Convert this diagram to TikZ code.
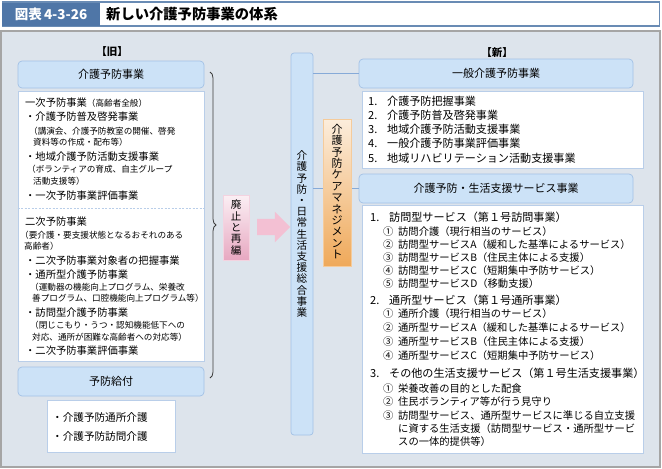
\documentclass[tikz,border=0pt]{standalone}
\usepackage{fontspec}
\setmainfont{Noto Sans CJK JP}
\usetikzlibrary{positioning,shapes.arrows,decorations.pathreplacing}
\definecolor{panelbg}{HTML}{DDE4EC}
\definecolor{panelline}{HTML}{A5A5A5}
\definecolor{hdrfill}{HTML}{CCE2F7}
\definecolor{hdrline}{HTML}{A3C1E6}
\definecolor{boxline}{HTML}{B9CEE9}
\definecolor{connline}{HTML}{86AAD8}
\definecolor{titleblue}{HTML}{4F76A7}
\definecolor{pinktop}{HTML}{FBEFF4}
\definecolor{pinkbot}{HTML}{E7A8C1}
\definecolor{pinkarrow}{HTML}{F3C0D3}
\definecolor{orgtop}{HTML}{FCEDDC}
\definecolor{orgbot}{HTML}{EFA95A}
\definecolor{bracecol}{HTML}{3C3C3C}
\newcommand{\numlab}[1]{\makebox[19pt][l]{#1}}
\newcommand{\circlab}[1]{\makebox[15pt][l]{#1}}

\begin{document}
\begin{tikzpicture}[x=1pt,y=-1pt,
    hdr/.style={draw=hdrline,fill=hdrfill,rounded corners=4pt,line width=0.7pt,inner sep=0,
                font=\fontsize{11}{13}\selectfont},
    wbox/.style={draw=boxline,fill=white,line width=0.6pt,inner sep=0},
    vtxt/.style={inner sep=0,align=center},
    big/.style={anchor=base west,inner sep=0,yshift=-3.9pt,font=\fontsize{10.3}{12}\selectfont},
    sm/.style={anchor=base west,inner sep=0,yshift=-3.3pt,font=\fontsize{8.6}{10}\selectfont},
    numitem/.style={anchor=base west,inner sep=0,yshift=-4.2pt,font=\fontsize{11.1}{13}\selectfont},
    circitem/.style={anchor=base west,inner sep=0,yshift=-3.9pt,font=\fontsize{10.3}{12}\selectfont},
    conn/.style={draw=connline,line width=0.8pt}]
  \useasboundingbox (0,0) rectangle (662,469);
  % title bar
  \node[draw=titleblue!85,line width=1.5pt,fill=white,minimum width=657pt,minimum height=24pt,inner sep=0] (ttl) at (331,14) {};
  \node[fill=titleblue,minimum width=98pt,minimum height=23pt,inner sep=0,text=white,
        font=\fontsize{13.5}{15}\selectfont\bfseries] (lab) at (51,14) {図表\,4-3-26};
  \node[anchor=west,inner sep=0,font=\fontsize{14.3}{16}\selectfont\bfseries] (ttltxt) at (106,14) {新しい介護予防事業の体系};
  % panel
  \node[draw=panelline,fill=panelbg,line width=1.2pt,minimum width=659pt,minimum height=436pt,inner sep=0] (panel) at (330.5,249) {};
  \node[font=\fontsize{10.5}{12}\selectfont\bfseries,inner sep=0] (old) at (112,52) {【旧】};
  \node[font=\fontsize{10.5}{12}\selectfont\bfseries,inner sep=0] (new) at (497,53) {【新】};

  % old system
  \node[hdr,minimum width=186pt,minimum height=27pt] (oldhdr) at (111,74.5) {介護予防事業};
  \node[wbox,minimum width=186pt,minimum height=270pt] (oldbox) at (111,226) {};
  \draw[boxline,dash pattern=on 2pt off 1.5pt,line width=0.6pt] (oldbox.west |- 0,208) -- (oldbox.east |- 0,208);
  \node[big] (ob0) at (25,103) {一次予防事業{\fontsize{8.6}{10}\selectfont（高齢者全般）}};
  \foreach \y/\t [count=\i] in {117/・介護予防普及啓発事業, 157/・地域介護予防活動支援事業,
      196/・一次予防事業評価事業, 222/二次予防事業, 261/・二次予防事業対象者の把握事業,
      275/・通所型介護予防事業, 313/・訪問型介護予防事業, 351/・二次予防事業評価事業}
    \node[big] (ob\i) at (25,\y) {\t};
  \foreach \x/\y/\t [count=\i] in {29/131/（講演会、介護予防教室の開催、啓発, 33/142/資料等の作成・配布等）,
      27/169/（ボランティアの育成、自主グループ, 33/181/活動支援等）,
      20/235/（要介護・要支援状態となるおそれのある, 24/246/高齢者）,
      30/287/（運動器の機能向上プログラム、栄養改, 32/298/善プログラム、口腔機能向上プログラム等）,
      30/325/（閉じこもり・うつ・認知機能低下への, 32/337/対応、通所が困難な高齢者への対応等）}
    \node[sm] (os\i) at (\x,\y) {\t};
  \node[hdr,minimum width=186pt,minimum height=29pt] (kyufu) at (111,381.5) {予防給付};
  \node[wbox,minimum width=128pt,minimum height=52pt] (kyufubox) at (111,426) {};
  \node[big,font=\fontsize{10.6}{12}\selectfont] (k1) at (52,418) {・介護予防通所介護};
  \node[big,font=\fontsize{10.6}{12}\selectfont] (k2) at (52,437) {・介護予防訪問介護};
  \draw[bracecol,line width=0.8pt,decorate,decoration={brace,amplitude=6pt}] (210,72) -- (210,378);

  % transition
  \node[draw=pinktop!60!pinkbot,top color=pinktop,bottom color=pinkbot,minimum width=26pt,minimum height=65pt,
        inner sep=0] (haishi) at (236,227.5) {};
  \node[vtxt,font=\fontsize{10.5}{11.4}\selectfont] (haishitxt) at (236,227.5) {廃\\止\\と\\再\\編};
  \node[single arrow,fill=pinkarrow,minimum height=33pt,minimum width=30pt,single arrow head extend=7pt,
        inner sep=0,inner ysep=8pt] (arr) at (269.5,227) {};

  % new system
  \node[hdr,minimum width=22pt,minimum height=382pt,rounded corners=3pt] (sogo) at (302,244) {};
  \node[vtxt,font=\fontsize{10.6}{11.2}\selectfont] (sogotxt) at (302,234)
    {介\\護\\予\\防\\・\\日\\常\\生\\活\\支\\援\\総\\合\\事\\業};
  \node[hdr,minimum width=274pt,minimum height=29pt] (ippan) at (496,73.5) {一般介護予防事業};
  \node[hdr,minimum width=274pt,minimum height=29pt] (svc) at (496,188.5) {介護予防・生活支援サービス事業};
  \draw[conn] (sogo.east |- ippan.west) -- (ippan.west);
  \draw[conn] (sogo.east |- svc.west) -- (svc.west);
  \node[draw=orgtop!50!orgbot,top color=orgtop,bottom color=orgbot,minimum width=28pt,minimum height=147pt,
        inner sep=0] (care) at (337,192.5) {};
  \node[vtxt,font=\fontsize{11}{11.4}\selectfont] (caretxt) at (337,191.5) {介\\護\\予\\防\\ケ\\ア\\マ\\ネ\\ジ\\メ\\ン\\ト};

  \node[wbox,minimum width=281pt,minimum height=77pt] (ippanbox) at (502.5,129.5) {};
  \foreach \y/\n/\t [count=\i] in {101/1./介護予防把握事業, 115.3/2./介護予防普及啓発事業,
      129.5/3./地域介護予防活動支援事業, 143.7/4./一般介護予防事業評価事業,
      158/5./地域リハビリテーション活動支援事業}
    \node[numitem] (ip\i) at (368,\y) {\numlab{\n}\t};

  \node[wbox,minimum width=281pt,minimum height=248pt] (svcbox) at (502.5,329) {};
  \foreach \y/\n/\t [count=\i] in {217/1./訪問型サービス（第１号訪問事業）,
      300/2./通所型サービス（第１号通所事業）, 373/3./その他の生活支援サービス（第１号生活支援事業）}
    \node[numitem] (sv\i) at (370,\y) {\numlab{\n}\t};
  \foreach \y/\n/\t [count=\i] in {232/①/訪問介護（現行相当のサービス）,
      245/②/訪問型サービスA（緩和した基準によるサービス）, 258/③/訪問型サービスB（住民主体による支援）,
      271/④/訪問型サービスC（短期集中予防サービス）, 284/⑤/訪問型サービスD（移動支援）,
      314/①/通所介護（現行相当のサービス）, 328/②/通所型サービスA（緩和した基準によるサービス）,
      342/③/通所型サービスB（住民主体による支援）, 356/④/通所型サービスC（短期集中予防サービス）,
      389/①/栄養改善の目的とした配食, 402/②/住民ボランティア等が行う見守り,
      416/③/訪問型サービス、通所型サービスに準じる自立支援}
    \node[circitem] (sc\i) at (383,\y) {\circlab{\n}\t};
  \node[circitem] (sc13) at (398,429) {に資する生活支援（訪問型サービス・通所型サービ};
  \node[circitem] (sc14) at (398,442) {スの一体的提供等）};
\end{tikzpicture}
\end{document}
